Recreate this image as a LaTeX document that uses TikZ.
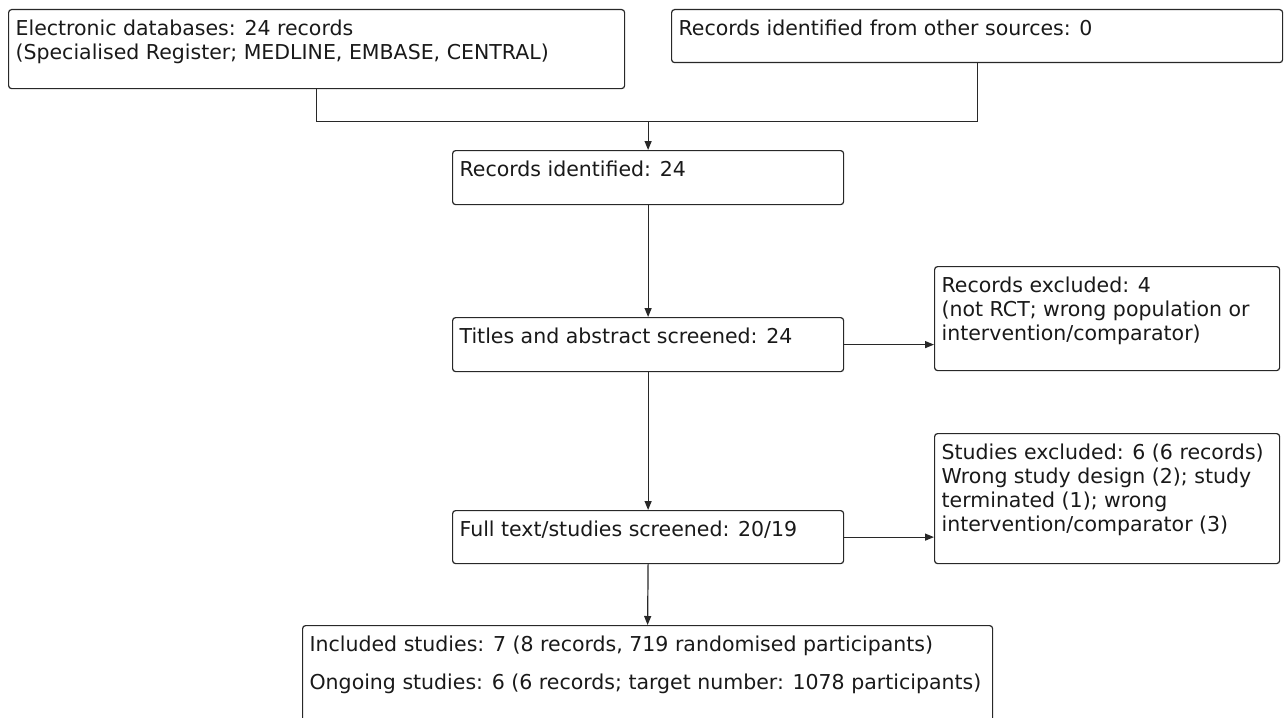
\documentclass[tikz,border=0pt]{standalone}
\usepackage{fontspec}
\setmainfont{DejaVu Sans}
\usetikzlibrary{arrows.meta,calc}
\definecolor{boxline}{RGB}{40,40,40}
\newcommand{\boxtext}[3]{\parbox[t][#2pt][t]{#1pt}{\fontsize{20.5}{24}\selectfont #3}}
\tikzset{
  flowbox/.style={draw=boxline, line width=1.2pt, rounded corners=3pt, anchor=north west,
                  inner xsep=7pt, inner ysep=9pt, text=black!90},
  link/.style={draw=boxline, line width=1.2pt},
  flow/.style={link, -{Triangle[length=9pt,width=7pt]}}
}
\begin{document}
\begin{tikzpicture}[x=1pt,y=-1pt]
\useasboundingbox (0,0) rectangle (1284,717);
\clip (0,0) rectangle (1284,717);
% sources
\node[flowbox] (src) at (8,9) {\boxtext{602}{61}{\strut Electronic databases: 24 records\\
  \strut (Specialised Register; MEDLINE, EMBASE, CENTRAL)}};
\node[flowbox] (oth) at (671,9) {\boxtext{597}{35}{\strut Records identified from other sources: 0}};
% main column
\node[flowbox] (ident) at (452,150) {\boxtext{377}{36}{\strut Records identified: 24}};
\node[flowbox] (scrn) at (452,317) {\boxtext{377}{36}{\strut Titles and abstract screened: 24}};
\node[flowbox] (full) at (452,510) {\boxtext{377}{35}{\strut Full text/studies screened: 20/19}};
\node[flowbox] (incl) at (302,625) {\boxtext{676}{112}{\strut Included studies: 7 (8 records, 719 randomised participants)\\[14pt]
  \strut Ongoing studies: 6 (6 records; target number: 1078 participants)}};
% exclusions
\node[flowbox] (excla) at (934,266) {\boxtext{331}{86}{\strut Records excluded: 4\\
  \strut (not RCT; wrong population or\\
  \strut intervention/comparator)}};
\node[flowbox] (exclb) at (934,433) {\boxtext{331}{112}{\strut Studies excluded: 6 (6 records)\\
  \strut Wrong study design (2); study\\
  \strut terminated (1); wrong\\
  \strut intervention/comparator (3)}};
% connectors
\coordinate (jn) at ($(src.south)+(0,32)$);
\draw[link] (src.south) -- (jn) -| (oth.south);
\draw[flow] (jn -| ident.north) -- (ident.north);
\draw[flow] (ident.south) -- (scrn.north);
\draw[flow] (scrn.south) -- (full.north);
\draw[flow] (full.south) -- (incl.north);
\draw[flow] (scrn.east) -- (scrn.east -| excla.west);
\draw[flow] (full.east) -- (full.east -| exclb.west);
\end{tikzpicture}
\end{document}
